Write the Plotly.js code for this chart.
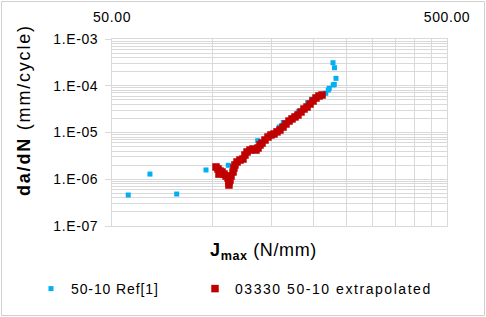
<!DOCTYPE html>
<html>
<head>
<meta charset="utf-8">
<script src="https://cdn.plot.ly/plotly-3.0.1.min.js"></script>
<style>
  html, body { margin: 0; padding: 0; background: #fff; }
  #chart { width: 486px; height: 317px; }
  .annotation-text { letter-spacing: 1.8px; }
  .legendtext { letter-spacing: 0.8px; }
  .ytick text, .xtick text { letter-spacing: 0.6px; }
</style>
</head>
<body>
<div id="chart"></div>
<script>
// ---- Data ----
// Series 1: 50-10 Ref[1]
const refJ = [55.9, 64.9, 78.0, 95.4, 111.2, 136.1, 157.9, 162.3, 179.9, 191.9, 197.3,
              217.3, 221.1, 222.6, 228.8, 230.4, 233.1, 230.7, 228.4];
const refDadN = [4.6e-7, 1.29e-6, 4.83e-7, 1.58e-6, 1.99e-6, 6.68e-6, 1.31e-5, 1.64e-5, 2.79e-5, 4.34e-5, 5.13e-5,
                 6.9e-5, 8.1e-5, 8.82e-5, 1.04e-4, 1.07e-4, 1.44e-4, 2.43e-4, 3.11e-4];

// Series 2: 03330 50-10 extrapolated
const extJ = [102.2, 103.6, 105.0, 104.3, 106.5, 108.0, 109.5, 111.0, 111.7, 111.7, 112.5, 113.3,
              114.9, 115.6, 116.4, 118.1, 120.5, 123.0, 124.7, 126.5, 129.1, 131.8, 134.5, 136.4,
              138.3, 140.2, 143.1, 146.1, 149.1, 152.2, 155.4, 158.6, 162.0, 165.3, 168.8, 172.3,
              175.9, 179.5, 183.3, 187.1, 191.0, 195.0, 199.1, 203.2, 207.4, 211.8];
const extDadN = [1.83e-6, 1.66e-6, 1.50e-6, 1.29e-6, 1.43e-6, 1.29e-6, 1.17e-6, 1.06e-6, 8.73e-7, 7.53e-7, 9.64e-7, 1.17e-6,
                 1.43e-6, 1.74e-6, 2.02e-6, 2.34e-6, 2.58e-6, 2.71e-6, 3.30e-6, 3.83e-6, 4.22e-6, 4.44e-6, 4.22e-6, 4.66e-6,
                 5.41e-6, 5.96e-6, 6.91e-6, 8.01e-6, 8.85e-6, 9.29e-6, 1.03e-5, 1.13e-5, 1.31e-5, 1.52e-5, 1.76e-5, 1.95e-5,
                 2.15e-5, 2.37e-5, 2.75e-5, 3.18e-5, 3.51e-5, 4.07e-5, 4.72e-5, 5.47e-5, 6.04e-5, 6.34e-5];

// Tick labels
const xTickVals = [50, 500];
const xTickText = ['50.00', '500.00'];
const xGridVals = [100, 150, 200, 250, 300, 350, 400, 450];
const yTickVals = [1e-7, 1e-6, 1e-5, 1e-4, 1e-3];
const yTickText = ['1.E-07', '1.E-06', '1.E-05', '1.E-04', '1.E-03'];

const seriesNames = ['50-10 Ref[1]', '03330 50-10 extrapolated'];

// minor log gridlines (2..9 per decade)
const yMinor = [];
for (let d = -7; d < -3; d++) {
  for (let k = 2; k <= 9; k++) yMinor.push(k * Math.pow(10, d));
}

const W = 486, H = 317;
const M = { l: 112, r: 39, t: 39, b: 91 };
const pw = W - M.l - M.r, ph = H - M.t - M.b;
const px = v => (v - M.l) / pw;         // pixel x -> paper
const py = v => (H - M.b - v) / ph;     // pixel y -> paper

const grid = '#d9d9d9';
const font = 'Liberation Sans, Arial, sans-serif';
const spaced = (s, sp) => '<span style="letter-spacing:' + sp + 'px">' + s + '</span>';

const traces = [
  {
    x: refJ, y: refDadN, name: spaced(seriesNames[0], 0.9), type: 'scatter', mode: 'markers',
    marker: { symbol: 'square', size: 5, color: '#00b0f0', line: { width: 0 } },
    legend: 'legend'
  },
  {
    x: extJ, y: extDadN, name: spaced(seriesNames[1], 1.55), type: 'scatter', mode: 'markers',
    marker: { symbol: 'square', size: 7.5, color: '#c00000', line: { width: 0 } },
    legend: 'legend2'
  }
];

const legendCommon = {
  orientation: 'h', bgcolor: 'rgba(0,0,0,0)', borderwidth: 0,
  font: { family: font, size: 14, color: '#000' },
  yanchor: 'middle', xanchor: 'left', itemwidth: 30
};

const layout = {
  width: W, height: H,
  margin: M,
  paper_bgcolor: '#fff', plot_bgcolor: '#fff',
  font: { family: font, size: 14, color: '#000' },
  showlegend: true,
  legend: Object.assign({}, legendCommon, { x: px(31), y: py(289) }),
  legend2: Object.assign({}, legendCommon, { x: px(195), y: py(289) }),
  xaxis: {
    type: 'log', side: 'top',
    range: [Math.log10(50), Math.log10(500)],
    tickmode: 'array', tickvals: xTickVals, ticktext: xTickText,
    ticks: '', ticklabelstandoff: 10,
    showgrid: true, gridcolor: grid, gridwidth: 1,
    minor: { tickmode: 'array', tickvals: xGridVals, showgrid: true, gridcolor: grid, gridwidth: 1, ticks: '' },
    showline: true, linecolor: grid, linewidth: 1, mirror: true,
    zeroline: false,
    tickfont: { family: font, size: 14, color: '#000' }
  },
  yaxis: {
    type: 'log',
    range: [-7, -3],
    tickmode: 'array', tickvals: yTickVals, ticktext: yTickText,
    ticks: 'outside', ticklen: 6, tickcolor: grid, tickwidth: 1,
    ticklabelstandoff: 4,
    showgrid: true, gridcolor: grid, gridwidth: 1,
    minor: { tickmode: 'array', tickvals: yMinor, showgrid: true, gridcolor: grid, gridwidth: 1, ticks: '' },
    showline: true, linecolor: grid, linewidth: 1, mirror: true,
    zeroline: false,
    tickfont: { family: font, size: 14, color: '#000' }
  },
  annotations: [
    {
      text: '<b>da/dN</b> (mm/cycle)', textangle: -90,
      xref: 'paper', yref: 'paper', x: px(24), y: py(110),
      xanchor: 'center', yanchor: 'middle', showarrow: false,
      font: { family: font, size: 18, color: '#000' }
    },
    {
      text: '<span style="letter-spacing:0.6px"><b>J<sub>max</sub></b> (N/mm)</span>',
      xref: 'paper', yref: 'paper', x: px(263), y: py(251),
      xanchor: 'center', yanchor: 'middle', showarrow: false,
      font: { family: font, size: 18, color: '#000' }
    }
  ],
  shapes: [
    {
      type: 'rect', xref: 'paper', yref: 'paper', layer: 'above',
      x0: px(1.5), x1: px(484.5), y0: py(315.5), y1: py(1.5),
      line: { color: '#d0d0d0', width: 1 }, fillcolor: 'rgba(0,0,0,0)'
    }
  ]
};

Plotly.newPlot('chart', traces, layout, { staticPlot: true, displayModeBar: false });
</script>
</body>
</html>
